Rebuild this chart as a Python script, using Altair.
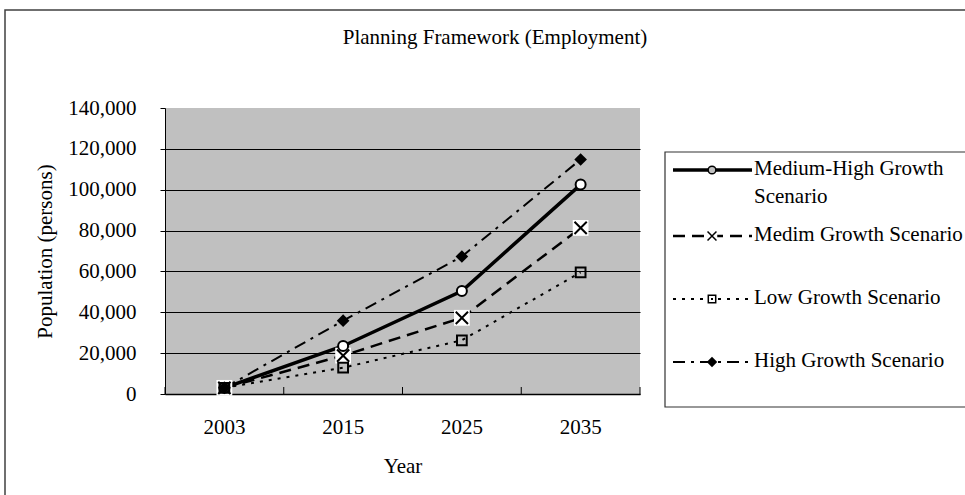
import altair as alt
import pandas as pd

# ---------------- data ----------------
years = ["2003", "2015", "2025", "2035"]
series_names = [
    "Medium-High Growth Scenario",
    "Medim Growth Scenario",
    "Low Growth Scenario",
    "High Growth Scenario",
]
medium_high = [3000, 23500, 50400, 102500]
medim = [3000, 18800, 37300, 81300]
low = [3000, 12900, 26300, 59500]
high = [3000, 35900, 67300, 114800]
values_by_series = [medium_high, medim, low, high]
y_tick_values = [0, 20000, 40000, 60000, 80000, 100000, 120000, 140000]
title_text = "Planning Framework (Employment)"
x_title = "Year"
y_title = "Population (persons)"

rows = []
for name, vals in zip(series_names, values_by_series):
    for yr, v in zip(years, vals):
        rows.append({"year": yr, "series": name, "value": v})
df = pd.DataFrame(rows)
one = pd.DataFrame({"a": [0]})

# ---------------- style ----------------
FONT = "Liberation Serif"
FS = 21
W, H = 475, 286
X_PATH = "M-1,-1L1,1M1,-1L-1,1"

x_scale = alt.Scale(type="band", domain=years, paddingInner=0, paddingOuter=0)
y_scale = alt.Scale(domain=[0, 140000], nice=False, zero=True)

x_axis = alt.Axis(
    title=x_title, labelAngle=0, ticks=False, tickSize=0, labelPadding=22,
    labelFont=FONT, labelFontSize=FS, labelColor="black",
    domainColor="black", domainWidth=1.5, grid=False,
    titleFont=FONT, titleFontSize=FS, titleFontWeight="normal", titleColor="black",
    titleY=72, titleBaseline="middle",
)
y_axis = alt.Axis(
    title=y_title, values=y_tick_values, format=",.0f",
    tickSize=5, tickColor="black", domainColor="black", labelPadding=24,
    labelFont=FONT, labelFontSize=FS, labelColor="black",
    grid=True, gridColor="black", gridWidth=1,
    gridOpacity={"condition": {"test": "datum.value >= 140000", "value": 0}, "value": 1},
    titleFont=FONT, titleFontSize=FS, titleFontWeight="normal", titleColor="black",
    titleX=-120, titleY=H / 2, titleAngle=270, titleAlign="center", titleBaseline="middle",
)

X = alt.X("year:O", scale=x_scale, axis=x_axis, bandPosition=0.5)
Y = alt.Y("value:Q", scale=y_scale, axis=y_axis)

layers = []

# outer chart frame
layers.append(
    alt.Chart(one).mark_rect(fillOpacity=0, stroke="#404040", strokeWidth=1.5).encode(
        x=alt.value(-160), x2=alt.value(900), y=alt.value(-98), y2=alt.value(500)
    )
)

# inward x ticks at category boundaries
layers.append(
    alt.Chart(pd.DataFrame({"year": years})).mark_rule(color="black", strokeWidth=1).encode(
        x=alt.X("year:O", scale=x_scale, axis=x_axis, bandPosition=0),
        y=alt.value(H), y2=alt.value(H - 7),
    )
)
layers.append(
    alt.Chart(one).mark_rule(color="black", strokeWidth=1).encode(
        x=alt.value(W), y=alt.value(H), y2=alt.value(H - 7)
    )
)

line_styles = [
    dict(strokeWidth=3.5),
    dict(strokeWidth=2.5, strokeDash=[12, 7]),
    dict(strokeWidth=2, strokeDash=[3, 6]),
    dict(strokeWidth=2, strokeDash=[12, 6, 3, 6]),
]

for name, st in zip(series_names, line_styles):
    layers.append(
        alt.Chart(df).transform_filter(alt.datum.series == name)
        .mark_line(color="black", **st).encode(x=X, y=Y)
    )

def pts(name):
    return alt.Chart(df).transform_filter(alt.datum.series == name)

# markers
layers.append(pts(series_names[1]).mark_square(size=250, color="white", opacity=1).encode(x=X, y=Y))
layers.append(pts(series_names[1]).mark_point(shape=X_PATH, size=150, stroke="black", strokeWidth=2, filled=False, opacity=1).encode(x=X, y=Y))
layers.append(pts(series_names[2]).mark_point(shape="square", size=95, stroke="black", strokeWidth=2, fillOpacity=0, opacity=1).encode(x=X, y=Y))
layers.append(pts(series_names[0]).mark_point(shape="circle", size=100, fill="white", stroke="black", strokeWidth=2, filled=True, opacity=1, fillOpacity=1).encode(x=X, y=Y))
layers.append(pts(series_names[3]).mark_point(shape="diamond", size=160, color="black", filled=True, opacity=1).encode(x=X, y=Y))

# title
layers.append(
    alt.Chart(one).mark_text(font=FONT, fontSize=FS, align="center", baseline="middle", color="black").encode(
        x=alt.value(330), y=alt.value(-70), text=alt.value(title_text)
    )
)

# legend box
layers.append(
    alt.Chart(one).mark_rect(fill="white", stroke="#333333", strokeWidth=1.2).encode(
        x=alt.value(500), x2=alt.value(830), y=alt.value(44), y2=alt.value(299)
    )
)
leg_y = [62, 128, 191, 254]
for i, (name, st) in enumerate(zip(series_names, line_styles)):
    layers.append(
        alt.Chart(one).mark_rule(color="black", **st).encode(
            x=alt.value(508), x2=alt.value(587), y=alt.value(leg_y[i])
        )
    )
# legend markers
layers.append(alt.Chart(one).mark_point(shape="circle", size=60, fill="#c0c0c0", stroke="black", strokeWidth=1.5, filled=True, opacity=1).encode(x=alt.value(547), y=alt.value(leg_y[0])))
layers.append(alt.Chart(one).mark_square(size=110, color="white", opacity=1).encode(x=alt.value(547), y=alt.value(leg_y[1])))
layers.append(alt.Chart(one).mark_point(shape=X_PATH, size=80, stroke="black", strokeWidth=1.5, filled=False, opacity=1).encode(x=alt.value(547), y=alt.value(leg_y[1])))
layers.append(alt.Chart(one).mark_point(shape="square", size=55, fill="white", stroke="black", strokeWidth=1.5, filled=True, opacity=1).encode(x=alt.value(547), y=alt.value(leg_y[2])))
layers.append(alt.Chart(one).mark_point(shape="square", size=4, color="black", filled=True, opacity=1).encode(x=alt.value(547), y=alt.value(leg_y[2])))
layers.append(alt.Chart(one).mark_point(shape="diamond", size=110, color="black", filled=True, opacity=1).encode(x=alt.value(547), y=alt.value(leg_y[3])))

legend_text = [
    ("Medium-High Growth", 61),
    ("Scenario", 89),
    ("Medim Growth Scenario", 127),
    ("Low Growth Scenario", 190),
    ("High Growth Scenario", 253),
]
for txt, ty in legend_text:
    layers.append(
        alt.Chart(one).mark_text(font=FONT, fontSize=FS, align="left", baseline="middle", color="black").encode(
            x=alt.value(589), y=alt.value(ty), text=alt.value(txt)
        )
    )

chart = (
    alt.layer(*layers)
    .properties(
        width=W, height=H,
        padding={"left": 165, "top": 108, "right": 325, "bottom": 101},
        autosize=alt.AutoSizeParams(type="none"),
    )
    .configure_view(fill="#c0c0c0", stroke=None)
)

chart.save("out.html", embed_options={"renderer": "svg", "actions": False})
